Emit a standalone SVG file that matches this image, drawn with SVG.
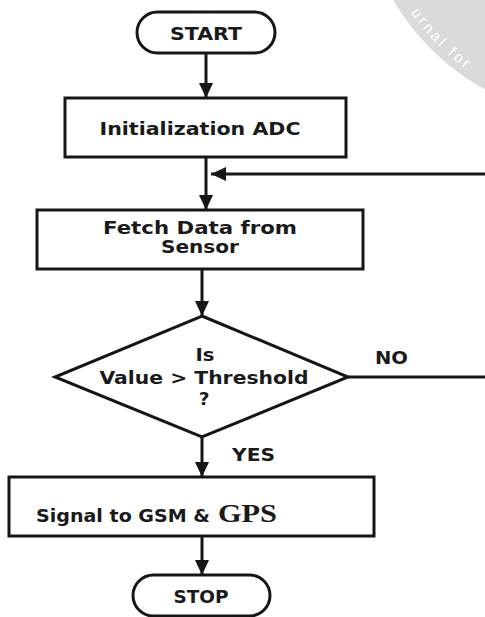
<svg xmlns="http://www.w3.org/2000/svg" width="485" height="617" viewBox="0 0 485 617">
<style>
.shape{fill:#fff;stroke:#161616;stroke-width:3}
.conn{fill:none;stroke:#161616;stroke-width:3}
.t{font-family:"DejaVu Sans",Verdana,sans-serif;font-weight:bold;font-size:18.5px;fill:#1a1a1a;text-anchor:middle}
.ts{font-family:"DejaVu Sans",Verdana,sans-serif;font-weight:bold;font-size:18.5px;fill:#1a1a1a}
.serif{font-family:"Liberation Serif","Times New Roman",serif;font-weight:bold;font-size:26px;fill:#1a1a1a}
</style>
<defs>
<marker id="ah" markerUnits="userSpaceOnUse" markerWidth="16" markerHeight="14" refX="15" refY="7" orient="auto">
<path d="M0,0 L15,7 L0,14 Z" fill="#161616"/>
</marker>
<path id="wmp" d="M 398,-8 A 230 230 0 0 0 490,84"/>
</defs>
<g id="watermark">
<circle cx="600" cy="-120" r="239" fill="#dadada"/>
<text font-family="Liberation Sans,Arial,sans-serif" font-size="15" fill="#fff" letter-spacing="3"><textPath href="#wmp" startOffset="24">urnal for</textPath></text>
</g>
<g id="connectors">
<line class="conn" x1="206" y1="53" x2="206" y2="98" marker-end="url(#ah)"/>
<line class="conn" x1="206" y1="157" x2="206" y2="210" marker-end="url(#ah)"/>
<line class="conn" x1="485" y1="174" x2="211" y2="174" marker-end="url(#ah)"/>
<line class="conn" x1="202" y1="269" x2="202" y2="316" marker-end="url(#ah)"/>
<line class="conn" x1="348" y1="377" x2="485" y2="377"/>
<line class="conn" x1="202" y1="437" x2="202" y2="477" marker-end="url(#ah)"/>
<line class="conn" x1="202" y1="536" x2="202" y2="575" marker-end="url(#ah)"/>
</g>
<g id="start">
<rect class="shape" x="137" y="12" width="138" height="41" rx="20.5"/>
<text class="t" x="206" y="39.5" textLength="72" lengthAdjust="spacingAndGlyphs">START</text>
</g>
<g id="init">
<rect class="shape" x="65" y="98" width="281" height="59"/>
<text class="t" x="200" y="134.5" textLength="201" lengthAdjust="spacingAndGlyphs">Initialization ADC</text>
</g>
<g id="fetch">
<rect class="shape" x="37" y="210" width="326" height="59"/>
<text class="t" x="200" y="233.5" textLength="194" lengthAdjust="spacingAndGlyphs">Fetch Data from</text>
<text class="t" x="200" y="252.5" textLength="78" lengthAdjust="spacingAndGlyphs">Sensor</text>
</g>
<g id="decision">
<polygon class="shape" points="202,316 348,377 202,437 55,377"/>
<text class="t" x="205" y="361" textLength="19" lengthAdjust="spacingAndGlyphs">Is</text>
<text class="t" x="204" y="383.5" textLength="209" lengthAdjust="spacingAndGlyphs">Value &gt; Threshold</text>
<text class="t" x="204" y="405">?</text>
</g>
<g id="labels">
<text class="ts" x="375" y="364" textLength="33" lengthAdjust="spacingAndGlyphs">NO</text>
<text class="ts" x="232" y="461" textLength="43" lengthAdjust="spacingAndGlyphs">YES</text>
</g>
<g id="signal">
<rect class="shape" x="9" y="477" width="365" height="59"/>
<text x="36" y="522"><tspan class="ts" textLength="174" lengthAdjust="spacingAndGlyphs">Signal to GSM &amp;</tspan><tspan class="serif" x="218" textLength="59" lengthAdjust="spacingAndGlyphs">GPS</tspan></text>
</g>
<g id="stop">
<rect class="shape" x="133" y="575" width="137" height="41" rx="20.5"/>
<text class="t" x="201" y="603" textLength="55" lengthAdjust="spacingAndGlyphs">STOP</text>
</g>
</svg>
